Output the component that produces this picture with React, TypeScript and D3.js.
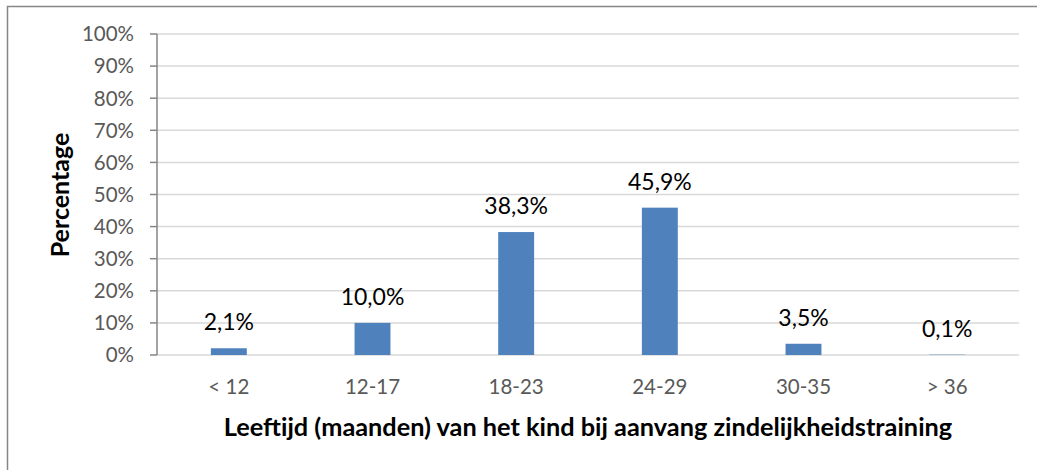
import React from "react";
import * as d3 from "d3";

const categories = ["< 12", "12-17", "18-23", "24-29", "30-35", "> 36"];
const values = [2.1, 10.0, 38.3, 45.9, 3.5, 0.1];
const yTicks = [0, 10, 20, 30, 40, 50, 60, 70, 80, 90, 100];
const xTitle = "Leeftijd (maanden) van het kind bij aanvang zindelijkheidstraining";
const yTitle = "Percentage";

const W = 1038;
const H = 470;
const margin = { left: 157, right: 19, top: 34, bottom: 115 };
const font = "Lato, 'Open Sans', sans-serif";

export default function App() {
  const x = d3
    .scaleBand<string>()
    .domain(categories)
    .range([margin.left, W - margin.right])
    .paddingInner(0.75)
    .paddingOuter(0.375);
  const y = d3.scaleLinear().domain([0, 100]).range([H - margin.bottom, margin.top]);
  const fmt = (v: number) => v.toFixed(1).replace(".", ",") + "%";
  const x0 = margin.left;
  const x1 = W - margin.right;

  return (
    <svg width={W} height={H} style={{ position: "absolute", left: 0, top: 0 }}>
      <rect x={0} y={0} width={W} height={H} fill="#fff" />
      <path d={`M7.5,${H} V6.5 H1037`} fill="none" stroke="#868686" strokeWidth={1.5} />
      {yTicks.map((t) => (
        <g key={t}>
          <line x1={x0} x2={x1} y1={y(t)} y2={y(t)} stroke="#d9d9d9" strokeWidth={1.5} />
          <line x1={x0 - 7} x2={x0} y1={y(t)} y2={y(t)} stroke="#868686" strokeWidth={1.5} />
          <text
            x={x0 - 23}
            y={y(t)}
            dy="0.36em"
            textAnchor="end"
            fontFamily={font}
            fontSize={20.5}
            fill="#595959"
          >
            {t}%
          </text>
        </g>
      ))}
      <line x1={x0} x2={x0} y1={y(100)} y2={y(0)} stroke="#868686" strokeWidth={1.5} />
      {categories.map((c, i) => (
        <g key={c}>
          <rect
            x={x(c)}
            y={y(values[i])}
            width={x.bandwidth()}
            height={y(0) - y(values[i])}
            fill="#4f81bd"
          />
          <text
            x={(x(c) as number) + x.bandwidth() / 2}
            y={y(values[i]) - 18}
            textAnchor="middle"
            fontFamily={font}
            fontSize={23}
            fill="#000"
          >
            {fmt(values[i])}
          </text>
          <text
            x={(x(c) as number) + x.bandwidth() / 2}
            y={394}
            textAnchor="middle"
            fontFamily={font}
            fontSize={20.5}
            fill="#595959"
          >
            {c}
          </text>
        </g>
      ))}
      <text
        x={588}
        y={436}
        textAnchor="middle"
        fontFamily={font}
        fontSize={25.3}
        fontWeight="bold"
        fill="#000"
      >
        {xTitle}
      </text>
      <text
        transform={`translate(69,195) rotate(-90)`}
        textAnchor="middle"
        fontFamily={font}
        fontSize={25}
        fontWeight="bold"
        fill="#000"
      >
        {yTitle}
      </text>
    </svg>
  );
}
